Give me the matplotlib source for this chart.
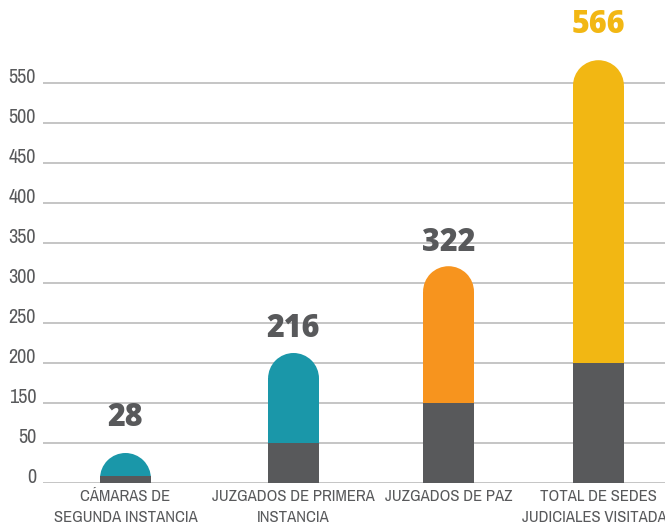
import os
import numpy as np
import matplotlib
matplotlib.use("Agg")
import matplotlib.pyplot as plt
from matplotlib import font_manager
from matplotlib.patches import Ellipse, Rectangle

# data (heights in gridline units: one gridline = 50)
categorias = ["CÁMARAS DE\nSEGUNDA INSTANCIA", "JUZGADOS DE PRIMERA\nINSTANCIA",
              "JUZGADOS DE PAZ", "TOTAL DE SEDES\nJUDICIALES VISITADAS"]
valores = ["28", "216", "322", "566"]
altura = [37.5, 162.5, 271, 528.5]
base_gris = [8.75, 50, 100, 150]
ytick_labels = ["0", "50", "150", "200", "250", "300", "350", "400", "450", "500", "550"]

colores = ["#1A97A9", "#1A97A9", "#F7941E", "#F2B713"]
color_valor = ["#58595B", "#58595B", "#58595B", "#F2B713"]
gris = "#58595B"

# layout
xpos = [0, 1.066, 2.049, 3.0]
ancho = 0.323
gap_px = [35, 24, 23, 35]


def narrow_font():
    # look for a condensed face among the installed fonts
    files = [f.fname for f in font_manager.fontManager.ttflist]
    for key in ["LiberationSansNarrow-Regular", "SansNarrow-Regular", "Narrow",
                "DejaVuSansCondensed.ttf", "Condensed"]:
        for fn in files:
            b = os.path.basename(fn)
            if key in b and "Bold" not in b and "Italic" not in b and "Oblique" not in b:
                return font_manager.FontProperties(fname=fn)
    return font_manager.FontProperties(family="DejaVu Sans", stretch="condensed")


fp = narrow_font()

fig = plt.figure(figsize=(6.65, 5.23), dpi=100)
ax = fig.add_axes([43 / 665, 40 / 523, 622 / 665, 483 / 523])
ax.set_xlim(-0.523, 3.422)
ax.set_ylim(0, 603.75)

for s in ax.spines.values():
    s.set_visible(False)

yt = np.arange(0, 50 * len(ytick_labels), 50)
ax.set_yticks(yt)
ax.set_yticklabels(ytick_labels, color="#58595B")
for lb in ax.get_yticklabels():
    lb.set_fontproperties(fp)
    lb.set_fontsize(14.5)
    lb.set_va("baseline")
ax.tick_params(axis="y", length=0, pad=5)
for y in yt:
    ax.axhline(y, color="#BBBBBB", lw=1.2, zorder=0)

ax.set_xticks(xpos)
ax.set_xticklabels(categorias, color="#58595B", linespacing=1.5)
for lb in ax.get_xticklabels():
    lb.set_fontproperties(fp)
    lb.set_fontsize(12)
ax.tick_params(axis="x", length=0, pad=4)

# radius of the rounded top in data units
p0 = ax.transData.transform((0, 0))
p1 = ax.transData.transform((ancho, 1))
w_px = p1[0] - p0[0]
r_y = (w_px / 2) / (p1[1] - p0[1])

for i in range(len(valores)):
    x = xpos[i]
    top = altura[i]
    ax.add_patch(Rectangle((x - ancho / 2, 0), ancho, max(top - r_y, 0),
                           color=colores[i], lw=0, zorder=2))
    ax.add_patch(Ellipse((x, top - r_y), ancho, 2 * r_y,
                         color=colores[i], lw=0, zorder=2))
    ax.add_patch(Rectangle((x - ancho / 2, 0), ancho, base_gris[i],
                           color=gris, lw=0, zorder=3))
    ax.annotate(valores[i], (x, top), xytext=(0, gap_px[i] * 0.72),
                textcoords="offset points", ha="center", va="center",
                fontsize=22, fontweight="heavy", color=color_valor[i],
                family="Open Sans", annotation_clip=False)

fig.savefig("out.png", dpi=100)
